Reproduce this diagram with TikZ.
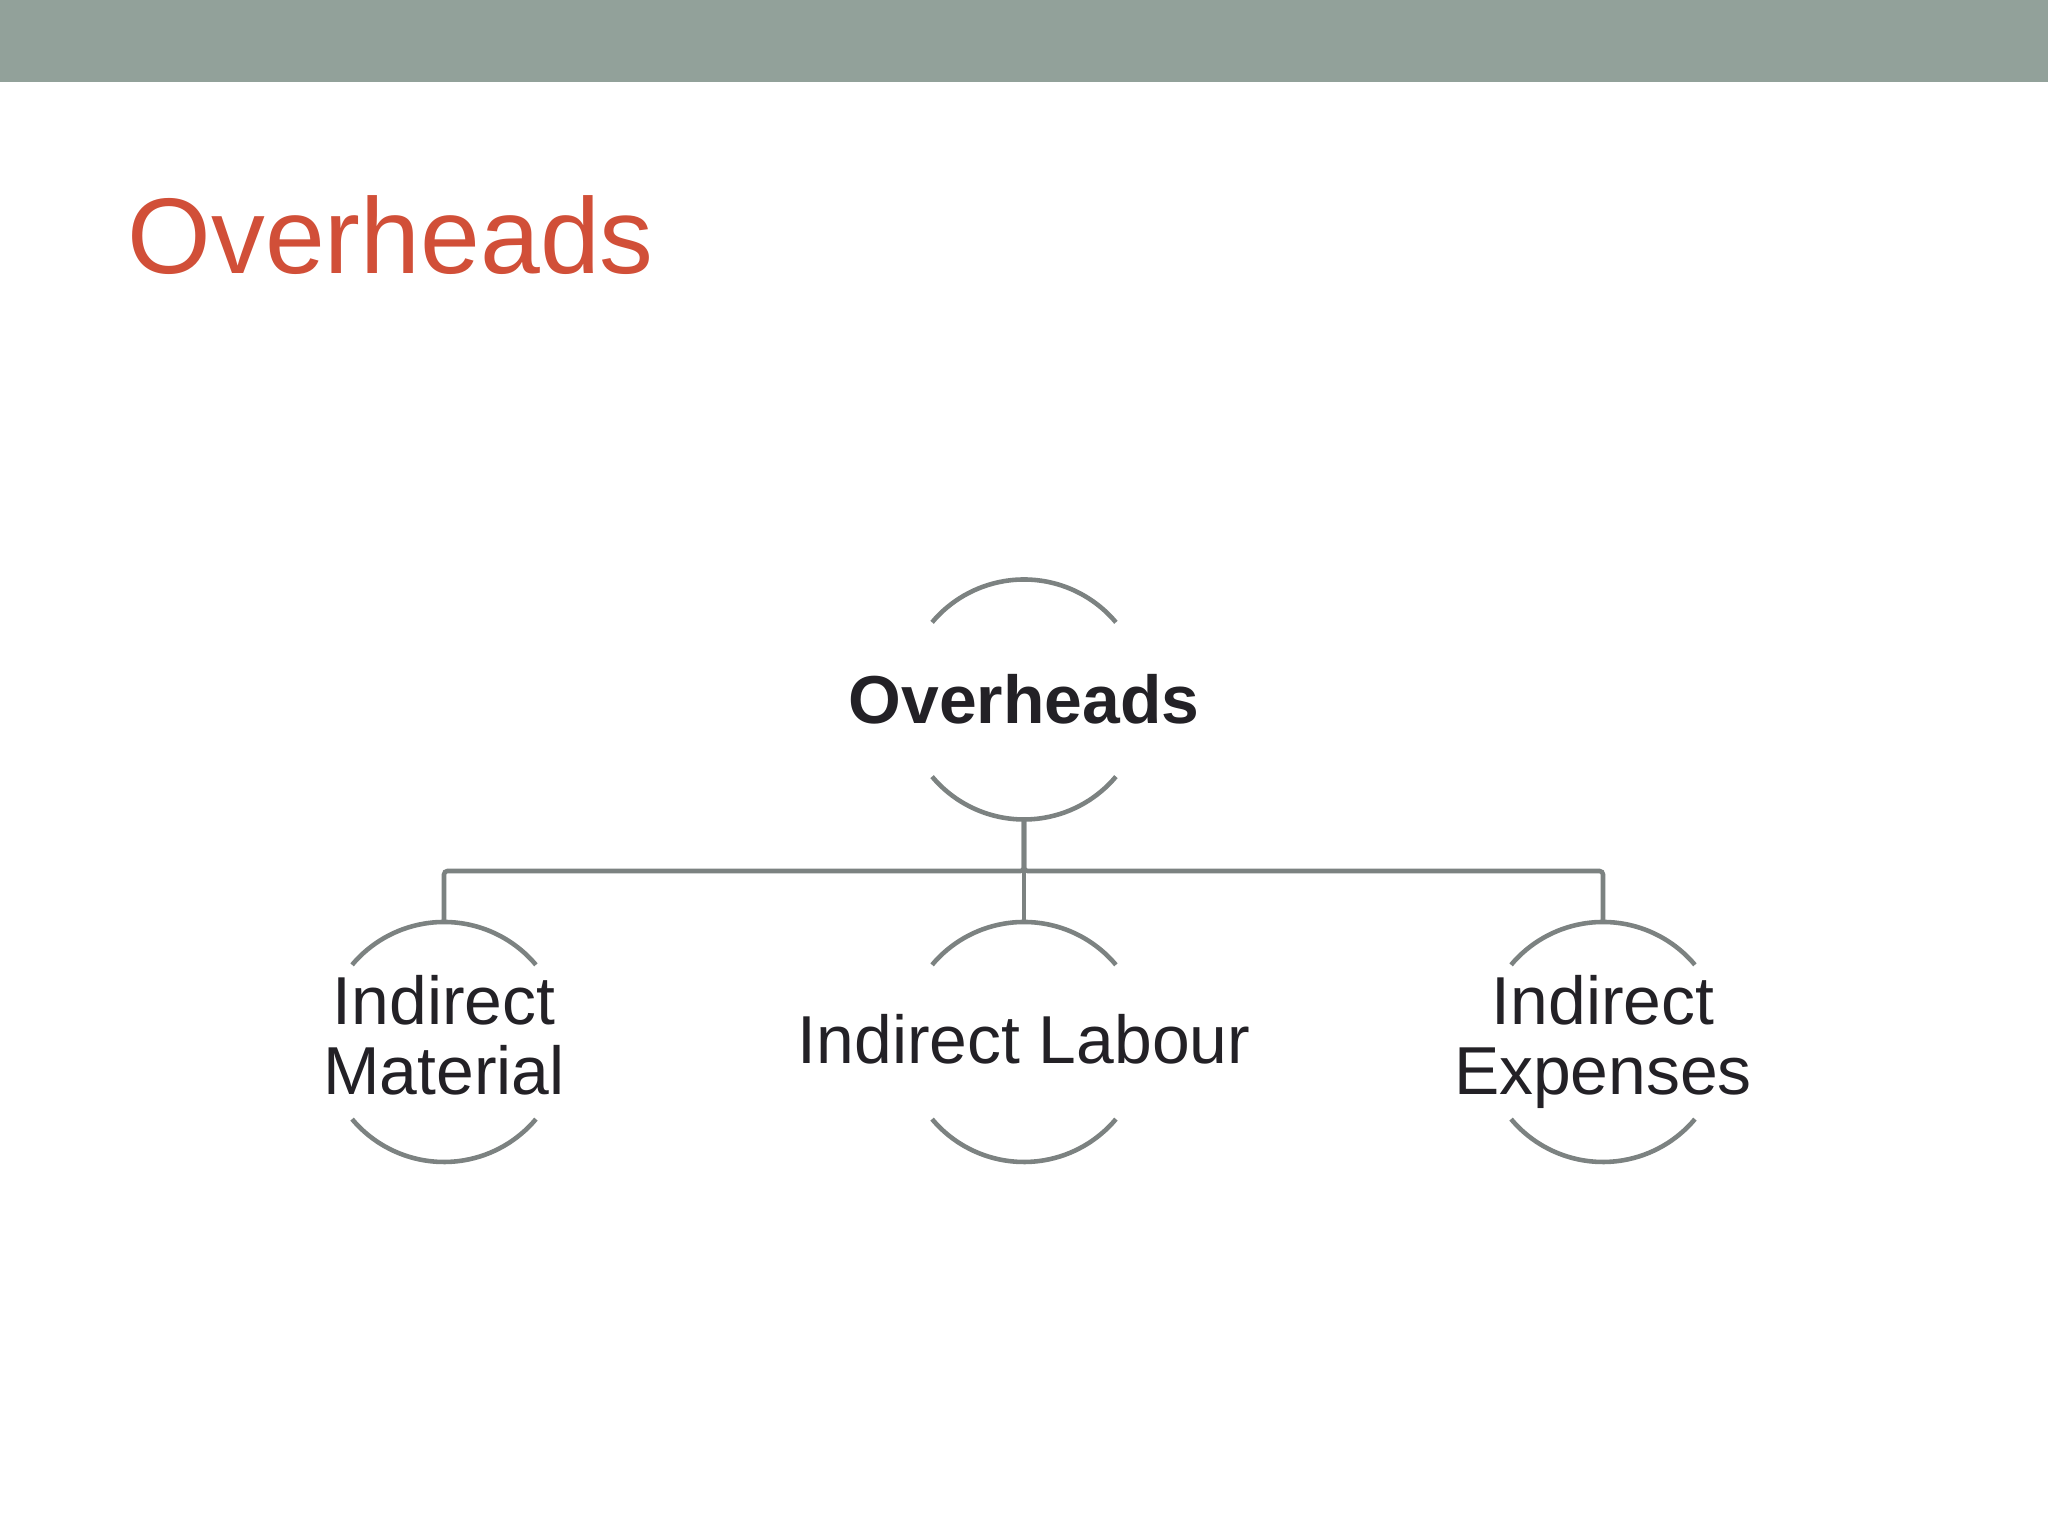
\documentclass[tikz,border=0pt]{standalone}
\usepackage{fontspec}
\setmainfont{Liberation Sans}
\usetikzlibrary{positioning}
\definecolor{barcol}{RGB}{146,161,154}
\definecolor{titlecol}{RGB}{209,79,56}
\definecolor{linecol}{RGB}{124,130,129}
\definecolor{txtcol}{RGB}{35,33,38}

\begin{document}
\begin{tikzpicture}[
hub/.style={
  circle,
  draw=none,
  minimum size=2.4cm,
  inner sep=0pt,
  outer sep=0pt
  },
lbl/.style={
  text=txtcol,
  align=center,
  font=\fontsize{19.3pt}{20pt}\selectfont
  },
ring/.style={
  draw=linecol,
  line width=1.3pt
  },
link/.style={
  ring,
  rounded corners=1pt
  }
]
\useasboundingbox[fill=white] (0,0) rectangle (20.48,15.36);
\fill[barcol] (0,14.54) rectangle (20.48,15.36);
\node[anchor=base west, text=titlecol, inner sep=0pt,
  font=\fontsize{30.6pt}{36pt}\selectfont] (title) at (1.27,12.62) {Overheads};

% circles of the tree
\node[hub] (ovh) at (10.24,8.365) {};
\node[hub, below=1.025cm of ovh] (lab) {};
\node[hub, left=3.4cm of lab] (mat) {};
\node[hub, right=3.39cm of lab] (exp) {};

\foreach \n in {ovh,lab,mat,exp}{
  \draw[ring] (\n.40) arc[start angle=40, end angle=140, radius=1.2cm];
  \draw[ring] (\n.220) arc[start angle=220, end angle=320, radius=1.2cm];
}

\node[lbl, font=\fontsize{19.3pt}{20pt}\selectfont\bfseries] (ovh-t) at (ovh) {Overheads};
\node[lbl, yshift=0.03cm] (lab-t) at (lab) {Indirect Labour};
\node[lbl] (mat-t) at (mat) {Indirect\\Material\vphantom{p}};
\node[lbl] (exp-t) at (exp) {Indirect\\Expenses};

% connectors
\draw[link] (ovh.south) -- ++(0,-0.515) -| (mat.north);
\draw[link] (ovh.south) -- ++(0,-0.515) -| (exp.north);
\draw[ring] (ovh.south) -- (lab.north);
\end{tikzpicture}
\end{document}
